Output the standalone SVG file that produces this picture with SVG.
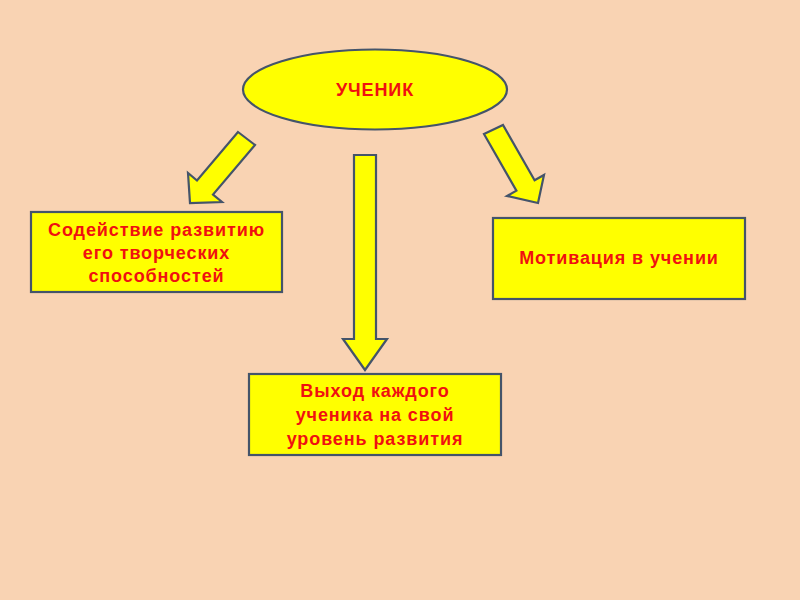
<svg xmlns="http://www.w3.org/2000/svg" width="800" height="600" viewBox="0 0 800 600">
<style>
.shape{fill:#FFFF00;stroke:#44546A;stroke-width:2.2;stroke-linejoin:miter}
.lbl{font-family:"Liberation Sans",Arial,sans-serif;font-weight:bold;font-size:18px;letter-spacing:0.9px;fill:#F01010;text-anchor:middle}
</style>
<rect x="0" y="0" width="800" height="600" fill="#F9D3B3"/>
<g id="connectors">
<polygon class="shape" points="238,132 255,145 213,194.5 222,202 190,203 188,173 197,180.5"/>
<polygon class="shape" points="354,155 376,155 376,339 387,339 365,370 343,339 354,339"/>
<polygon class="shape" points="484,134 503,125 534.6,180.3 544,175 538,203 507,196 516.4,190.7"/>
</g>
<g id="node-uchenik">
<ellipse class="shape" cx="375" cy="89.5" rx="132" ry="40"/>
<text class="lbl" x="375" y="96">УЧЕНИК</text>
</g>
<g id="node-sodeystvie">
<rect class="shape" x="31" y="212" width="251" height="80"/>
<text class="lbl" x="156.5" y="236">Содействие развитию</text>
<text class="lbl" x="156.5" y="259">его творческих</text>
<text class="lbl" x="156.5" y="282">способностей</text>
</g>
<g id="node-motivatsiya">
<rect class="shape" x="493" y="218" width="252" height="81"/>
<text class="lbl" x="619" y="264">Мотивация в учении</text>
</g>
<g id="node-vykhod">
<rect class="shape" x="249" y="374" width="252" height="81"/>
<text class="lbl" x="375" y="397">Выход каждого</text>
<text class="lbl" x="375" y="421">ученика на свой</text>
<text class="lbl" x="375" y="445">уровень развития</text>
</g>
</svg>
